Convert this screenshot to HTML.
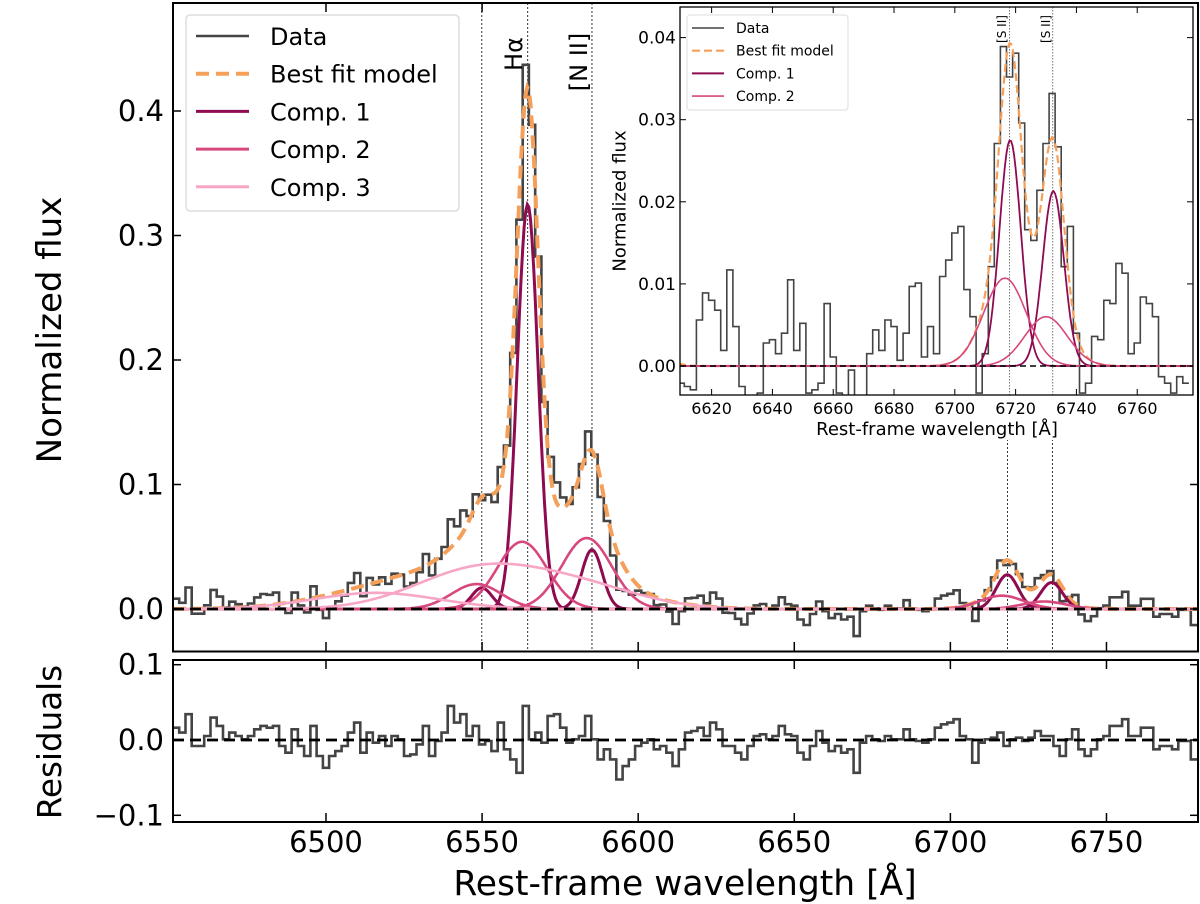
<!DOCTYPE html>
<html><head><meta charset="utf-8"><style>
html,body{margin:0;padding:0;background:#fff}
svg{display:block;font-family:"DejaVu Sans","Liberation Sans",sans-serif}
</style></head><body>
<svg id="fig" width="1200" height="904" viewBox="0 0 1200 904" xmlns="http://www.w3.org/2000/svg"></svg>
<script>
// ---- data ----
const resLam0 = 6452, resStep = 2;
const residualsA = [16.4,9.8,34.2,-8,-8,5.3,29.8,18.7,0.9,9.8,5.3,0.9,5.3,14.2,18.7,16.4,18.7,-8,-16.9,14.2,-8,-21.3,18.7,-21.3,-36.9,-21.3,-14.7,-8,9.8,23.1,-16.9,9.8,-3.6,5.3,-8,5.3,0.9,-21.3,-19.1,-5.8,18.7,-21.3,-1.3,9.8,45.3,23.1,34.2,5.3,18.7,-5.8,-1.3,-14.7,23.1,-12.4,-25.8,-43.6,45.3,0.9,9.8,-3.6,32,34.2,16.4,-3.6,0.9,5.3,32,0.9,-25.8,-12.4,-25.8,-52.4,-34.7,-25.8,-8,-3.6,0.9,-12.4];
const residualsB = [-8,-16.9,-34.7,-12.4,9.8,12,16.4,5.3,23.1,14.2,-8,-8,-16.9,-25.8,-8,5.3,7.6,0.9,5.3,18.7,7.6,5.3,-16.9,-25.8,-8,12,-3.6,-14.7,-8,-16.9,-12.4,-43.6,-3.6,5.3,0.9,-1.3,5.3,0.9,0.9,14.2,0.9,-1.3,-3.6,0.9,16.4,20.9,23.1,27.6,5.3,0.9,-30.2,-3.6,0.9,3.1,9.8,-8,0.9,3.1,-1.3,3.1,12,5.3,5.3,-8,-21.3,0.9,14.2,-12.4,-21.3,-12.4,0.9,5.3,18.7,18.7,27.6,5.3,5.3,16.4,16.4,-12.4,-8,-8,-12.4,-1.3,-1.3,-25.8];
// residuals are plotted in scaled units; flux deviation = residual * residualScale
const residualScale = 0.5;
// components: [center, amplitude, sigma]
const comp1Lines = [[6549.9,0.017,3.3],[6564.6,0.325,3.3],[6585.2,0.0476,3.3],[6718.2,0.0275,3.5],[6732.4,0.0213,3.5]];
const comp2Lines = [[6548.2,0.02,8],[6562.8,0.054,8],[6583.5,0.057,8],[6716.5,0.0107,7],[6730,0.006,7]];
const comp3Main = [[6548,0.030,20],[6580,0.018,20]];
const comp3Blue = [[6516,0.013,20]];
const insetLam0 = 6610, insetStep = 2;
const insetFlux = [-2.1,-2.5,-2.9,5.6,8.9,8.0,6.8,1.9,11.7,4.8,-2.5,-4.1,-3.7,-3.3,2.8,3.2,1.5,4.0,10.5,1.9,5.2,-3.3,-2.9,-2.1,7.6,1.1,-3.3,-3.7,-0.5,-3.7,-3.7,1.5,4.4,1.9,5.6,4.8,0.7,4.0,9.7,10.1,1.1,4.8,1.5,10.9,12.9,16.2,17.0,9.3,6.0,-3.3,1.5,12.1,27.1,38.9,35.2,38.1,29.6,16.6,15.3,21.4,27.1,33.2,26.7,12.1,17.0,4.0,-3.3,-2.1,3.6,3.2,8.0,7.6,12.5,11.3,1.5,2.8,8.4,7.6,6.0,-1.3,-2.1,-3.3,-1.3,-2.1];
const mainYTicks = [0,0.1,0.2,0.3,0.4], mainYLabels = ["0.0","0.1","0.2","0.3","0.4"];
const xTicks = [6500,6550,6600,6650,6700,6750];
const resYTicks = [-0.1,0,0.1], resYLabels = ["\u22120.1","0.0","0.1"];
const inXTicks = [6620,6640,6660,6680,6700,6720,6740,6760];
const inYTicks = [0,0.01,0.02,0.03,0.04], inYLabels = ["0.00","0.01","0.02","0.03","0.04"];

// ---- axes ----
const X = l => 173 + (l - 6451) * 3.122;
const Y = v => 609 - v * 1245;
const RY = r => 740 - r * 753;
const IX = l => 680 + (l - 6609.6) * 3.04;
const IY = v => 366 - v * 8210;

const NS = "http://www.w3.org/2000/svg";
const svg = document.getElementById("fig");
function el(tag, attrs, parent, text){
  const e = document.createElementNS(NS, tag);
  for (const k in attrs) e.setAttribute(k, attrs[k]);
  if (text !== undefined) e.textContent = text;
  (parent || svg).appendChild(e);
  return e;
}
const gauss = (l, lines) => lines.reduce((s, c) => s + c[1] * Math.exp(-((l - c[0]) ** 2) / (2 * c[2] * c[2])), 0);
const allMain = comp1Lines.concat(comp2Lines, comp3Main, comp3Blue);
const model = l => gauss(l, allMain);
const insetModel = l => gauss(l, comp1Lines.concat(comp2Lines));
const residuals = residualsA.concat(residualsB).map(v => v / 1000);

function curvePath(fn, xf, yf, l0, l1){
  let d = "";
  for (let l = l0; l <= l1 + 1e-9; l += 0.5) d += (d ? "L" : "M") + xf(l).toFixed(1) + "," + yf(fn(l)).toFixed(1);
  return d;
}
function stepPath(lams, vals, w, xf, yf){
  let d = "";
  for (let i = 0; i < vals.length; i++){
    const a = xf(lams[i] - w / 2), b = xf(lams[i] + w / 2), y = yf(vals[i]).toFixed(1);
    d += (i === 0 ? "M" + a.toFixed(1) + "," + y : "L" + a.toFixed(1) + "," + y) + "L" + b.toFixed(1) + "," + y;
  }
  return d;
}
const resLams = residuals.map((_, i) => resLam0 + i * resStep);
const dataVals = residuals.map((r, i) => model(resLams[i]) + r * residualScale);

// clip paths
const defs = el("defs", {});
const c1 = el("clipPath", {id: "mainClip"}, defs); el("rect", {x:173, y:3, width:1025, height:648}, c1);
const c2 = el("clipPath", {id: "resClip"}, defs); el("rect", {x:173, y:660, width:1025, height:162}, c2);
const c3 = el("clipPath", {id: "inClip"}, defs); el("rect", {x:680, y:7, width:513, height:388}, c3);

// ---- main panel ----
const gMain = el("g", {"clip-path": "url(#mainClip)"});


[6549.9, 6564.6, 6585.2, 6718.3, 6732.7].forEach(l => {
  const ln = el("line", {x1:X(l), x2:X(l), y1:3, y2:651, stroke:"#333", "stroke-width":1, "stroke-dasharray":"2,2"}, gMain);
  
  
});
const dataLine = el("path", {d: stepPath(resLams, dataVals, resStep, X, Y), fill:"none", stroke:"#444", "stroke-width":2.6}, gMain);


const modelLine = el("path", {d: curvePath(model, X, Y, 6451, 6780), fill:"none", stroke:"#f5a05a", "stroke-width":4, "stroke-dasharray":"13,7"}, gMain);


comp1Lines.forEach(c => {
  const p = el("path", {d: curvePath(l => gauss(l, [c]), X, Y, 6451, 6780), fill:"none", stroke:"#8e0b50", "stroke-width":3}, gMain);
  
  
});
comp2Lines.forEach(c => {
  const p = el("path", {d: curvePath(l => gauss(l, [c]), X, Y, 6451, 6780), fill:"none", stroke:"#d6487e", "stroke-width":2.6}, gMain);
  
  
});
[comp3Main, comp3Blue].forEach(cs => {
  const p = el("path", {d: curvePath(l => gauss(l, cs), X, Y, 6451, 6780), fill:"none", stroke:"#f7a6c6", "stroke-width":2.6}, gMain);
  
  
});
const zl = el("line", {x1:173, x2:1198, y1:Y(0), y2:Y(0), stroke:"#000", "stroke-width":2.8, "stroke-dasharray":"11,6"}, gMain);



// line labels
const ha = el("text", {transform:"translate(514,54) rotate(-90)", "text-anchor":"middle", "dominant-baseline":"central", "font-size":24}, svg, "H\u03b1");


const n2 = el("text", {transform:"translate(579,62) rotate(-90)", "text-anchor":"middle", "dominant-baseline":"central", "font-size":24}, svg, "[N II]");



// main frame and ticks
const mf = el("rect", {x:173, y:3, width:1025, height:648.5, fill:"none", stroke:"#000", "stroke-width":2});


mainYTicks.forEach((v, i) => {
  el("line", {x1:173, x2:181, y1:Y(v), y2:Y(v), stroke:"#000", "stroke-width":1.5});
  el("line", {x1:1190, x2:1198, y1:Y(v), y2:Y(v), stroke:"#000", "stroke-width":1.5});
  const t = el("text", {x:164, y:Y(v) + 10, "text-anchor":"end", "font-size":29}, svg, mainYLabels[i]);
  
  
});
xTicks.forEach(v => {
  el("line", {x1:X(v), x2:X(v), y1:3, y2:12, stroke:"#000", "stroke-width":1.5});
  el("line", {x1:X(v), x2:X(v), y1:642, y2:651, stroke:"#000", "stroke-width":1.5});
  el("line", {x1:X(v), x2:X(v), y1:660, y2:669, stroke:"#000", "stroke-width":1.5});
  el("line", {x1:X(v), x2:X(v), y1:813, y2:822, stroke:"#000", "stroke-width":1.5});
  const t = el("text", {x:X(v), y:852, "text-anchor":"middle", "font-size":29}, svg, String(v));
  
  
});
const yl = el("text", {transform:"translate(50,330) rotate(-90)", "text-anchor":"middle", "dominant-baseline":"central", "font-size":34}, svg, "Normalized flux");



// legend
const lg = el("g", {});


el("rect", {x:186, y:15, width:273, height:196, rx:4, fill:"#fff", stroke:"#ddd", "stroke-width":1.5}, lg);
const legItems = [["Data","#444",2.6,""],["Best fit model","#f5a05a",4,"13,7"],["Comp. 1","#8e0b50",3,""],["Comp. 2","#d6487e",3,""],["Comp. 3","#f7a6c6",3,""]];
legItems.forEach((it, i) => {
  const y = 36 + i * 37.7;
  const ent = el("g", {}, lg);
  
  
  el("line", {x1:196, x2:249, y1:y, y2:y, stroke:it[1], "stroke-width":it[2], "stroke-dasharray":it[3] || "none"}, ent);
  el("text", {x:270, y:y + 9, "font-size":24}, ent, it[0]);
});

// ---- residual panel ----
const gRes = el("g", {"clip-path": "url(#resClip)"});


const rl = el("path", {d: stepPath(resLams, residuals, resStep, X, RY), fill:"none", stroke:"#444", "stroke-width":2.6}, gRes);


const rz = el("line", {x1:173, x2:1198, y1:RY(0), y2:RY(0), stroke:"#000", "stroke-width":2.8, "stroke-dasharray":"11,6"}, gRes);


const rf = el("rect", {x:173, y:660, width:1025, height:162, fill:"none", stroke:"#000", "stroke-width":2});


resYTicks.forEach((v, i) => {
  el("line", {x1:173, x2:181, y1:RY(v), y2:RY(v), stroke:"#000", "stroke-width":1.5});
  el("line", {x1:1190, x2:1198, y1:RY(v), y2:RY(v), stroke:"#000", "stroke-width":1.5});
  const t = el("text", {x:164, y:RY(v) + 10, "text-anchor":"end", "font-size":29}, svg, resYLabels[i]);
  
  
});
const ryl = el("text", {transform:"translate(50,742) rotate(-90)", "text-anchor":"middle", "dominant-baseline":"central", "font-size":32.5}, svg, "Residuals");


const xl = el("text", {x:685, y:895, "text-anchor":"middle", "font-size":34.5}, svg, "Rest-frame wavelength [\u00c5]");



// ---- inset ----
const ins = el("g", {});


el("rect", {x:600, y:4, width:597, height:436, fill:"#fff"}, ins);
const gIn = el("g", {"clip-path": "url(#inClip)"}, ins);
[6718.0, 6732.2].forEach(l => {
  const ln = el("line", {x1:IX(l), x2:IX(l), y1:7, y2:395, stroke:"#777", "stroke-width":1, "stroke-dasharray":"1.5,1.5"}, gIn);
  
  
});
const inLams = insetFlux.map((_, i) => insetLam0 + i * insetStep);
const inData = el("path", {d: stepPath(inLams, insetFlux.map(v => v / 1000), insetStep, IX, IY), fill:"none", stroke:"#444", "stroke-width":1.6}, gIn);


const inModel = el("path", {d: curvePath(insetModel, IX, IY, 6609, 6779), fill:"none", stroke:"#f5a05a", "stroke-width":2.2, "stroke-dasharray":"8,4"}, gIn);


comp1Lines.slice(3).forEach(c => {
  const p = el("path", {d: curvePath(l => gauss(l, [c]), IX, IY, 6609, 6779), fill:"none", stroke:"#8e0b50", "stroke-width":1.8}, gIn);
  
  
});
comp2Lines.slice(3).forEach(c => {
  const p = el("path", {d: curvePath(l => gauss(l, [c]), IX, IY, 6609, 6779), fill:"none", stroke:"#d6487e", "stroke-width":1.6}, gIn);
  
  
});
const iz = el("line", {x1:680, x2:1193, y1:IY(0), y2:IY(0), stroke:"#000", "stroke-width":1.6, "stroke-dasharray":"6,4"}, gIn);


[[1002,"[S II]"],[1046,"[S II]"]].forEach(s => {
  const t = el("text", {transform:"translate(" + s[0] + ",29) rotate(-90)", "text-anchor":"middle", "dominant-baseline":"central", "font-size":12}, ins, s[1]);
  
  
});
el("rect", {x:680, y:7, width:513, height:388, fill:"none", stroke:"#000", "stroke-width":1.3}, ins);
inYTicks.forEach((v, i) => {
  el("line", {x1:680, x2:686, y1:IY(v), y2:IY(v), stroke:"#000", "stroke-width":1}, ins);
  el("line", {x1:1187, x2:1193, y1:IY(v), y2:IY(v), stroke:"#000", "stroke-width":1}, ins);
  const t = el("text", {x:676, y:IY(v) + 6, "text-anchor":"end", "font-size":17}, ins, inYLabels[i]);
  
  
});
inXTicks.forEach(v => {
  el("line", {x1:IX(v), x2:IX(v), y1:7, y2:13, stroke:"#000", "stroke-width":1}, ins);
  el("line", {x1:IX(v), x2:IX(v), y1:389, y2:395, stroke:"#000", "stroke-width":1}, ins);
  const t = el("text", {x:IX(v), y:414, "text-anchor":"middle", "font-size":16}, ins, String(v));
  
  
});
const ixl = el("text", {x:937, y:435, "text-anchor":"middle", "font-size":18}, ins, "Rest-frame wavelength [\u00c5]");


const iyl = el("text", {transform:"translate(620,201) rotate(-90)", "text-anchor":"middle", "dominant-baseline":"central", "font-size":18}, ins, "Normalized flux");


const ilg = el("g", {}, ins);


el("rect", {x:687, y:15, width:161, height:95, rx:3, fill:"#fff", stroke:"#ddd", "stroke-width":1}, ilg);
const inLeg = [["Data","#444",1.6,""],["Best fit model","#f5a05a",2.2,"8,4"],["Comp. 1","#8e0b50",2,""],["Comp. 2","#d6487e",1.6,""]];
inLeg.forEach((it, i) => {
  const y = 28 + i * 22.7;
  const ent = el("g", {}, ilg);
  
  
  el("line", {x1:692, x2:724, y1:y, y2:y, stroke:it[1], "stroke-width":it[2], "stroke-dasharray":it[3] || "none"}, ent);
  el("text", {x:736, y:y + 5, "font-size":14}, ent, it[0]);
});
</script>
</body></html>
